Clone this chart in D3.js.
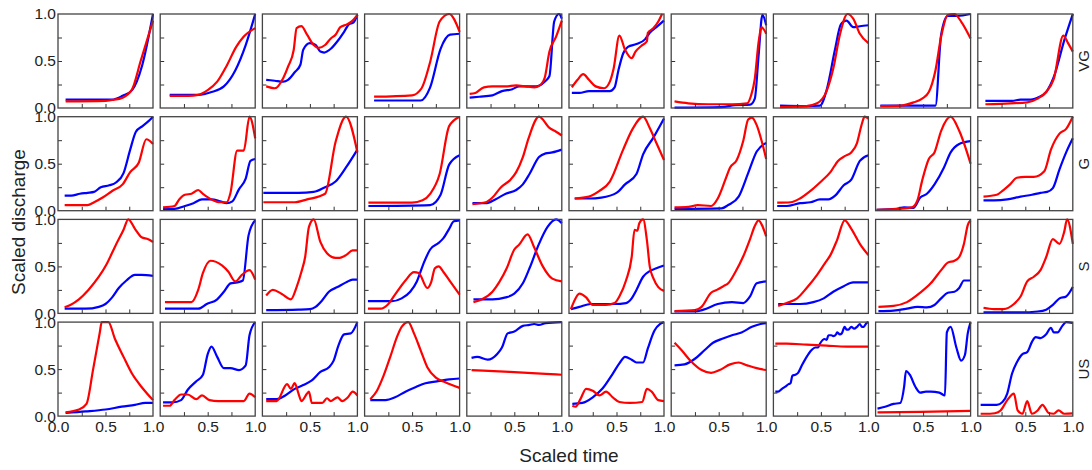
<!DOCTYPE html>
<html><head><meta charset="utf-8">
<script src="https://cdn.jsdelivr.net/npm/d3@7"></script>
<style>html,body{margin:0;padding:0;background:#fff;}svg{display:block;}</style>
</head><body>
<svg id="chart" width="1092" height="470"></svg>
<script>
const rowLabels = ["VG","G","S","US"];
const xTickLabels = [0, 0.5, 1];
const yTickLabels = [0, 0.5, 1];
const minorTicks = [0.25, 0.5, 0.75];

// each entry: one panel (column 1..10), points [scaled time, scaled discharge]
const vgBlue = [
 [[0.08,0.09],[0.3,0.09],[0.57,0.09],[0.68,0.13],[0.78,0.19],[0.885,0.45],[1.0,1.0]],
 [[0.1,0.14],[0.4,0.14],[0.54,0.17],[0.67,0.23],[0.79,0.4],[0.9,0.67],[1.0,1.0]],
 [[0.04,0.3],[0.13,0.29],[0.22,0.28],[0.27,0.3],[0.34,0.38],[0.4,0.46],[0.43,0.62],[0.5,0.69],[0.56,0.67],[0.61,0.6],[0.65,0.59],[0.72,0.63],[0.79,0.71],[0.86,0.81],[0.91,0.89],[0.96,0.91],[1.0,0.99]],
 [[0.1,0.08],[0.59,0.08],[0.69,0.22],[0.8,0.63],[0.9,0.78],[1.0,0.79]],
 [[0.03,0.11],[0.13,0.12],[0.27,0.135],[0.37,0.18],[0.48,0.2],[0.55,0.23],[0.66,0.23],[0.73,0.23],[0.82,0.28],[0.87,0.34],[0.92,0.92],[0.97,1.0],[1.0,0.95]],
 [[0.03,0.16],[0.11,0.16],[0.21,0.18],[0.32,0.18],[0.43,0.18],[0.48,0.22],[0.52,0.4],[0.57,0.58],[0.62,0.65],[0.71,0.68],[0.8,0.73],[0.85,0.8],[0.92,0.86],[1.0,0.93]],
 [[0.035,0.005],[0.53,0.01],[0.67,0.03],[0.83,0.035],[0.88,0.1],[0.92,0.56],[0.96,0.99],[1.0,0.88]],
 [[0.07,0.025],[0.35,0.02],[0.49,0.025],[0.56,0.19],[0.65,0.63],[0.71,0.89],[0.77,0.93],[0.84,0.86],[0.91,0.87],[1.0,0.88]],
 [[0.05,0.025],[0.63,0.025],[0.69,0.78],[0.76,0.98],[0.86,0.98],[1.0,1.0]],
 [[0.08,0.075],[0.36,0.075],[0.45,0.09],[0.56,0.09],[0.63,0.11],[0.72,0.17],[0.8,0.33],[0.91,0.72],[1.0,1.0]]
];
const vgRed = [
 [[0.08,0.07],[0.5,0.075],[0.57,0.085],[0.68,0.11],[0.78,0.2],[0.87,0.5],[1.0,0.93]],
 [[0.1,0.13],[0.3,0.13],[0.4,0.14],[0.5,0.19],[0.6,0.28],[0.7,0.45],[0.8,0.65],[0.88,0.76],[1.0,0.85]],
 [[0.04,0.23],[0.13,0.21],[0.22,0.32],[0.27,0.44],[0.33,0.62],[0.36,0.85],[0.41,0.87],[0.47,0.78],[0.54,0.67],[0.59,0.64],[0.66,0.67],[0.72,0.74],[0.77,0.78],[0.82,0.86],[0.89,0.89],[0.95,0.93],[1.0,0.99]],
 [[0.1,0.12],[0.5,0.135],[0.6,0.21],[0.69,0.49],[0.79,0.92],[0.89,1.0],[1.0,0.81]],
 [[0.03,0.15],[0.09,0.16],[0.18,0.22],[0.27,0.23],[0.41,0.23],[0.52,0.24],[0.62,0.23],[0.71,0.22],[0.78,0.25],[0.82,0.32],[0.87,0.6],[0.94,0.76],[1.0,0.93]],
 [[0.03,0.22],[0.09,0.3],[0.15,0.36],[0.21,0.3],[0.28,0.23],[0.37,0.21],[0.43,0.28],[0.47,0.42],[0.53,0.77],[0.59,0.62],[0.66,0.53],[0.7,0.6],[0.76,0.66],[0.82,0.71],[0.83,0.8],[0.89,0.85],[0.94,0.92],[0.98,1.0]],
 [[0.035,0.07],[0.18,0.05],[0.39,0.04],[0.64,0.04],[0.8,0.05],[0.84,0.13],[0.88,0.31],[0.92,0.7],[0.95,0.86],[1.0,0.79]],
 [[0.07,0.01],[0.35,0.02],[0.46,0.05],[0.56,0.18],[0.63,0.42],[0.7,0.78],[0.78,1.0],[0.84,0.95],[0.91,0.79],[1.0,0.69]],
 [[0.05,0.02],[0.26,0.025],[0.4,0.06],[0.49,0.1],[0.56,0.17],[0.63,0.4],[0.69,0.76],[0.76,0.99],[0.83,1.0],[0.9,0.92],[1.0,0.74]],
 [[0.08,0.04],[0.34,0.05],[0.52,0.06],[0.63,0.1],[0.72,0.17],[0.8,0.31],[0.9,0.77],[0.95,0.69],[1.0,0.6]]
];
const gBlue = [
 [[0.07,0.16],[0.14,0.16],[0.23,0.18],[0.31,0.19],[0.38,0.2],[0.45,0.25],[0.54,0.27],[0.61,0.3],[0.69,0.4],[0.76,0.65],[0.82,0.84],[0.89,0.9],[0.95,0.95],[1.0,1.0]],
 [[0.03,0.02],[0.15,0.02],[0.26,0.05],[0.35,0.08],[0.44,0.12],[0.54,0.12],[0.63,0.1],[0.7,0.08],[0.76,0.1],[0.83,0.23],[0.9,0.34],[0.95,0.53],[1.0,0.55]],
 [[0.01,0.19],[0.38,0.19],[0.54,0.2],[0.66,0.25],[0.77,0.31],[0.88,0.46],[1.0,0.65]],
 [[0.04,0.05],[0.69,0.06],[0.8,0.17],[0.89,0.49],[1.0,0.59]],
 [[0.06,0.08],[0.2,0.08],[0.3,0.12],[0.41,0.18],[0.52,0.22],[0.59,0.28],[0.66,0.39],[0.76,0.57],[0.83,0.61],[0.9,0.62],[1.0,0.65]],
 [[0.06,0.13],[0.21,0.13],[0.34,0.14],[0.5,0.19],[0.59,0.28],[0.71,0.39],[0.78,0.6],[0.89,0.78],[1.0,0.98]],
 [[0.035,0.02],[0.53,0.025],[0.6,0.06],[0.71,0.15],[0.81,0.4],[0.9,0.63],[1.0,0.72]],
 [[0.04,0.05],[0.14,0.05],[0.28,0.08],[0.39,0.09],[0.49,0.12],[0.58,0.12],[0.65,0.16],[0.74,0.27],[0.82,0.33],[0.91,0.53],[1.0,0.59]],
 [[0.01,0.01],[0.22,0.02],[0.3,0.035],[0.4,0.03],[0.47,0.14],[0.54,0.18],[0.62,0.28],[0.72,0.46],[0.79,0.62],[0.88,0.71],[1.0,0.74]],
 [[0.06,0.11],[0.17,0.11],[0.31,0.12],[0.45,0.15],[0.57,0.17],[0.66,0.19],[0.73,0.2],[0.79,0.24],[0.86,0.44],[0.93,0.62],[1.0,0.77]]
];
const gRed = [
 [[0.07,0.06],[0.31,0.06],[0.38,0.09],[0.47,0.14],[0.57,0.21],[0.68,0.28],[0.76,0.41],[0.85,0.51],[0.93,0.76],[1.0,0.71]],
 [[0.03,0.035],[0.15,0.05],[0.2,0.12],[0.26,0.17],[0.33,0.18],[0.4,0.22],[0.45,0.18],[0.54,0.12],[0.63,0.09],[0.7,0.09],[0.74,0.19],[0.81,0.64],[0.88,0.64],[0.94,1.0],[1.0,0.77]],
 [[0.01,0.09],[0.34,0.09],[0.47,0.12],[0.66,0.18],[0.77,0.73],[0.88,1.0],[1.0,0.62]],
 [[0.04,0.085],[0.5,0.085],[0.61,0.11],[0.69,0.18],[0.79,0.39],[0.89,0.9],[1.0,1.0]],
 [[0.06,0.07],[0.2,0.09],[0.27,0.14],[0.36,0.25],[0.46,0.33],[0.52,0.41],[0.59,0.57],[0.65,0.77],[0.76,1.0],[0.87,0.88],[0.94,0.84],[1.0,0.8]],
 [[0.06,0.13],[0.21,0.15],[0.32,0.21],[0.43,0.31],[0.57,0.65],[0.67,0.87],[0.78,1.0],[0.85,0.88],[0.92,0.72],[1.0,0.54]],
 [[0.035,0.035],[0.18,0.04],[0.28,0.06],[0.42,0.05],[0.49,0.13],[0.57,0.33],[0.62,0.46],[0.69,0.54],[0.76,0.75],[0.81,0.97],[0.85,0.99],[0.9,0.91],[0.95,0.75],[1.0,0.55]],
 [[0.04,0.085],[0.18,0.09],[0.28,0.13],[0.39,0.21],[0.49,0.3],[0.6,0.41],[0.68,0.53],[0.75,0.58],[0.82,0.62],[0.88,0.72],[0.93,0.92],[0.96,1.0],[1.0,0.98]],
 [[0.01,0.01],[0.26,0.02],[0.38,0.035],[0.44,0.11],[0.49,0.32],[0.56,0.55],[0.62,0.62],[0.69,0.85],[0.79,1.0],[0.88,0.85],[1.0,0.5]],
 [[0.06,0.15],[0.2,0.17],[0.27,0.22],[0.34,0.28],[0.41,0.35],[0.5,0.36],[0.59,0.36],[0.7,0.42],[0.77,0.65],[0.86,0.82],[0.93,0.87],[1.0,1.0]]
];
const sBlue = [
 [[0.07,0.05],[0.29,0.05],[0.43,0.07],[0.5,0.1],[0.57,0.17],[0.64,0.27],[0.72,0.35],[0.81,0.41],[0.88,0.41],[1.0,0.4]],
 [[0.05,0.05],[0.4,0.05],[0.49,0.1],[0.6,0.15],[0.67,0.23],[0.74,0.32],[0.81,0.33],[0.87,0.35],[0.93,0.83],[1.0,0.99]],
 [[0.04,0.035],[0.38,0.04],[0.5,0.045],[0.56,0.07],[0.63,0.14],[0.7,0.23],[0.79,0.28],[0.88,0.33],[0.95,0.36],[1.0,0.36]],
 [[0.035,0.13],[0.29,0.13],[0.39,0.16],[0.48,0.23],[0.55,0.34],[0.62,0.53],[0.69,0.68],[0.78,0.75],[0.83,0.8],[0.89,0.9],[0.94,0.98],[1.0,0.99]],
 [[0.07,0.15],[0.27,0.15],[0.41,0.17],[0.5,0.21],[0.59,0.32],[0.66,0.48],[0.76,0.74],[0.85,0.92],[0.94,1.0],[1.0,0.96]],
 [[0.02,0.045],[0.11,0.07],[0.23,0.1],[0.35,0.1],[0.48,0.1],[0.6,0.11],[0.66,0.16],[0.71,0.25],[0.78,0.39],[0.85,0.45],[0.92,0.48],[1.0,0.51]],
 [[0.035,0.02],[0.25,0.02],[0.34,0.04],[0.49,0.1],[0.64,0.12],[0.76,0.11],[0.83,0.18],[0.9,0.32],[1.0,0.34]],
 [[0.05,0.1],[0.28,0.1],[0.42,0.12],[0.53,0.16],[0.63,0.23],[0.74,0.29],[0.84,0.33],[1.0,0.33]],
 [[0.03,0.025],[0.19,0.03],[0.33,0.05],[0.44,0.07],[0.54,0.065],[0.62,0.09],[0.69,0.16],[0.76,0.22],[0.83,0.23],[0.88,0.27],[0.93,0.35],[1.0,0.35]],
 [[0.06,0.01],[0.45,0.01],[0.63,0.02],[0.72,0.04],[0.79,0.09],[0.86,0.16],[0.93,0.18],[1.0,0.28]]
];
const sRed = [
 [[0.07,0.065],[0.13,0.09],[0.22,0.15],[0.32,0.25],[0.43,0.39],[0.51,0.52],[0.6,0.71],[0.69,0.89],[0.74,1.0],[0.81,0.9],[0.88,0.81],[0.95,0.79],[1.0,0.76]],
 [[0.05,0.12],[0.33,0.12],[0.4,0.25],[0.45,0.43],[0.53,0.56],[0.65,0.51],[0.72,0.44],[0.79,0.34],[0.86,0.41],[0.94,0.46],[1.0,0.36]],
 [[0.04,0.19],[0.11,0.25],[0.2,0.21],[0.3,0.15],[0.36,0.28],[0.41,0.44],[0.45,0.6],[0.49,0.92],[0.54,1.0],[0.61,0.76],[0.68,0.64],[0.77,0.59],[0.8,0.59],[0.88,0.62],[0.95,0.67],[1.0,0.67]],
 [[0.035,0.05],[0.17,0.05],[0.24,0.09],[0.32,0.2],[0.43,0.35],[0.52,0.44],[0.57,0.43],[0.66,0.27],[0.7,0.33],[0.74,0.48],[0.78,0.5],[0.83,0.44],[0.9,0.34],[1.0,0.2]],
 [[0.07,0.12],[0.16,0.15],[0.27,0.23],[0.34,0.33],[0.42,0.48],[0.5,0.68],[0.55,0.73],[0.64,0.84],[0.71,0.7],[0.8,0.5],[0.9,0.37],[1.0,0.34]],
 [[0.02,0.045],[0.05,0.12],[0.11,0.21],[0.18,0.17],[0.25,0.09],[0.39,0.09],[0.48,0.11],[0.53,0.18],[0.6,0.35],[0.66,0.6],[0.69,0.89],[0.72,0.88],[0.74,0.96],[0.78,1.0],[0.82,0.78],[0.85,0.5],[0.89,0.37],[0.94,0.28],[1.0,0.24]],
 [[0.035,0.025],[0.25,0.035],[0.32,0.07],[0.42,0.22],[0.48,0.25],[0.55,0.29],[0.6,0.32],[0.67,0.43],[0.76,0.61],[0.83,0.79],[0.88,0.93],[0.92,0.99],[0.95,0.95],[1.0,0.82]],
 [[0.05,0.08],[0.14,0.11],[0.25,0.16],[0.35,0.27],[0.46,0.41],[0.54,0.53],[0.6,0.62],[0.67,0.78],[0.75,0.99],[0.82,0.9],[0.91,0.74],[1.0,0.62]],
 [[0.03,0.07],[0.19,0.08],[0.33,0.12],[0.47,0.22],[0.58,0.32],[0.69,0.46],[0.76,0.54],[0.83,0.56],[0.88,0.6],[0.93,0.74],[0.97,0.94],[1.0,0.99]],
 [[0.06,0.06],[0.17,0.045],[0.27,0.045],[0.38,0.1],[0.45,0.18],[0.52,0.34],[0.59,0.39],[0.66,0.46],[0.72,0.6],[0.79,0.79],[0.86,0.74],[0.91,0.87],[0.94,1.0],[1.0,0.74]]
];
const usBlue = [
 [[0.08,0.035],[0.29,0.05],[0.5,0.07],[0.67,0.1],[0.81,0.12],[0.92,0.14],[1.0,0.14]],
 [[0.03,0.145],[0.13,0.145],[0.22,0.17],[0.29,0.28],[0.38,0.37],[0.45,0.44],[0.5,0.66],[0.54,0.74],[0.6,0.63],[0.67,0.51],[0.74,0.51],[0.83,0.49],[0.9,0.54],[0.94,0.86],[1.0,1.0]],
 [[0.04,0.18],[0.15,0.18],[0.24,0.22],[0.34,0.29],[0.43,0.33],[0.52,0.38],[0.61,0.47],[0.7,0.52],[0.75,0.59],[0.8,0.75],[0.86,0.87],[0.93,0.88],[1.0,1.0]],
 [[0.06,0.17],[0.22,0.17],[0.32,0.2],[0.43,0.26],[0.54,0.31],[0.64,0.35],[0.76,0.37],[0.89,0.39],[1.0,0.4]],
 [[0.05,0.62],[0.11,0.63],[0.22,0.6],[0.32,0.66],[0.37,0.73],[0.43,0.88],[0.5,0.9],[0.59,0.96],[0.66,0.97],[0.71,0.98],[0.76,0.97],[0.83,0.99],[1.0,1.0]],
 [[0.035,0.13],[0.14,0.14],[0.25,0.2],[0.35,0.29],[0.46,0.45],[0.53,0.56],[0.59,0.63],[0.66,0.6],[0.71,0.57],[0.78,0.57],[0.83,0.72],[0.9,0.91],[0.96,0.98],[1.0,1.0]],
 [[0.035,0.54],[0.14,0.55],[0.25,0.61],[0.35,0.7],[0.44,0.78],[0.53,0.82],[0.64,0.86],[0.74,0.89],[0.85,0.95],[0.94,0.98],[1.0,0.99]],
 [[0.02,0.26],[0.05,0.26],[0.09,0.29],[0.12,0.31],[0.16,0.34],[0.18,0.35],[0.2,0.43],[0.23,0.44],[0.26,0.46],[0.3,0.54],[0.35,0.63],[0.4,0.7],[0.44,0.73],[0.47,0.73],[0.49,0.77],[0.54,0.82],[0.56,0.81],[0.58,0.86],[0.61,0.86],[0.63,0.85],[0.66,0.87],[0.67,0.89],[0.7,0.87],[0.72,0.88],[0.75,0.95],[0.77,0.92],[0.79,0.92],[0.82,0.95],[0.85,0.93],[0.88,0.95],[0.91,0.98],[0.93,0.95],[0.95,0.95],[0.98,0.99],[1.0,1.0]],
 [[0.02,0.08],[0.1,0.1],[0.19,0.13],[0.26,0.14],[0.3,0.31],[0.32,0.48],[0.36,0.44],[0.42,0.31],[0.47,0.25],[0.53,0.26],[0.58,0.26],[0.67,0.25],[0.73,0.22],[0.75,0.89],[0.79,0.95],[0.85,0.73],[0.9,0.59],[0.94,0.65],[0.97,0.88],[1.0,1.0]],
 [[0.03,0.12],[0.2,0.12],[0.26,0.15],[0.31,0.24],[0.36,0.45],[0.41,0.57],[0.47,0.66],[0.52,0.68],[0.57,0.79],[0.61,0.84],[0.66,0.83],[0.72,0.87],[0.77,0.94],[0.8,0.89],[0.84,0.89],[0.89,0.96],[0.93,1.0],[1.0,0.99]]
];
const usRed = [
 [[0.08,0.04],[0.22,0.07],[0.3,0.13],[0.37,0.5],[0.44,0.89],[0.46,1.0],[0.53,1.0],[0.6,0.82],[0.69,0.63],[0.78,0.45],[0.88,0.31],[1.0,0.17]],
 [[0.03,0.11],[0.1,0.11],[0.15,0.17],[0.22,0.23],[0.29,0.23],[0.38,0.18],[0.44,0.22],[0.52,0.17],[0.61,0.16],[0.76,0.16],[0.88,0.16],[0.94,0.24],[1.0,0.2]],
 [[0.04,0.16],[0.15,0.16],[0.26,0.34],[0.3,0.29],[0.34,0.35],[0.38,0.24],[0.41,0.16],[0.47,0.24],[0.49,0.26],[0.52,0.14],[0.63,0.14],[0.68,0.19],[0.72,0.16],[0.79,0.2],[0.84,0.16],[0.9,0.2],[0.95,0.26],[1.0,0.22]],
 [[0.06,0.18],[0.13,0.27],[0.2,0.43],[0.27,0.63],[0.34,0.84],[0.39,0.95],[0.46,1.0],[0.52,0.88],[0.59,0.7],[0.66,0.52],[0.75,0.41],[0.85,0.36],[1.0,0.3]],
 [[0.05,0.49],[0.45,0.47],[0.83,0.45],[1.0,0.44]],
 [[0.035,0.11],[0.07,0.1],[0.12,0.18],[0.18,0.29],[0.25,0.27],[0.32,0.22],[0.39,0.26],[0.46,0.2],[0.53,0.15],[0.64,0.14],[0.77,0.15],[0.82,0.29],[0.87,0.26],[0.94,0.17],[1.0,0.16]],
 [[0.035,0.78],[0.11,0.7],[0.21,0.58],[0.32,0.49],[0.42,0.46],[0.51,0.49],[0.62,0.55],[0.71,0.57],[0.8,0.54],[0.9,0.51],[1.0,0.49]],
 [[0.02,0.77],[0.14,0.77],[0.35,0.76],[0.56,0.75],[0.77,0.74],[1.0,0.74]],
 [[0.02,0.04],[0.47,0.045],[1.0,0.055]],
 [[0.03,0.025],[0.13,0.025],[0.18,0.03],[0.24,0.06],[0.31,0.17],[0.38,0.24],[0.42,0.06],[0.47,0.025],[0.52,0.16],[0.57,0.025],[0.63,0.06],[0.68,0.12],[0.75,0.03],[0.8,0.025],[0.85,0.06],[0.91,0.025],[1.0,0.03]]
];

const blueRows = [vgBlue, gBlue, sBlue, usBlue];
const redRows = [vgRed, gRed, sRed, usRed];

const svg = d3.select("#chart");
const left0 = 58, pitchX = 102.2, pw = 95;
const top0 = 14, pitchY = 102.7, ph = 94;
const font = "'Liberation Sans', Arial, Helvetica, sans-serif";
const x = d3.scaleLinear().domain([0,1]).range([0,pw]);
const y = d3.scaleLinear().domain([0,1]).range([ph,0]);
const line = d3.line().x(d=>x(d[0])).y(d=>y(d[1])).curve(d3.curveMonotoneX);

rowLabels.forEach((lab, r) => {
  for (let c = 0; c < 10; c++) {
    const g = svg.append("g").attr("transform", `translate(${left0 + c*pitchX},${top0 + r*pitchY})`);
    g.append("path").datum(blueRows[r][c]).attr("d", line)
      .attr("fill","none").attr("stroke","#0000ff").attr("stroke-width",2.2).attr("stroke-linejoin","round");
    g.append("path").datum(redRows[r][c]).attr("d", line)
      .attr("fill","none").attr("stroke","#ff0000").attr("stroke-width",2.2).attr("stroke-linejoin","round");
    // inward ticks
    const xa = d3.axisTop(x).tickValues(minorTicks).tickSize(4).tickFormat("");
    const ga = g.append("g").attr("transform",`translate(0,${ph})`).call(xa);
    ga.select(".domain").remove();
    ga.selectAll("line").attr("stroke","#333");
    const ya = d3.axisRight(y).tickValues(minorTicks).tickSize(4).tickFormat("");
    const gy = g.append("g").call(ya);
    gy.select(".domain").remove();
    gy.selectAll("line").attr("stroke","#333");
    g.append("rect").attr("x",0).attr("y",0).attr("width",pw).attr("height",ph)
      .attr("fill","none").attr("stroke","#444").attr("stroke-width",1.3);
    if (c === 0) {
      const yl = d3.axisLeft(y).tickValues(yTickLabels).tickSize(0).tickPadding(2).tickFormat(d3.format(".1f"));
      const gl = g.append("g").call(yl);
      gl.select(".domain").remove();
      gl.selectAll("text").attr("font-family",font).attr("font-size",15.5).attr("fill","#222");
    }
    if (r === 3) {
      const vals = c === 0 ? xTickLabels : xTickLabels.slice(1);
      const xl = d3.axisBottom(x).tickValues(vals).tickSize(0).tickPadding(5).tickFormat(d3.format(".1f"));
      const gx = g.append("g").attr("transform",`translate(0,${ph})`).call(xl);
      gx.select(".domain").remove();
      gx.selectAll("text").attr("font-family",font).attr("font-size",15.5).attr("fill","#222");
    }
  }
  svg.append("text").attr("transform",`translate(1089,${top0 + r*pitchY + ph/2}) rotate(-90)`)
    .attr("text-anchor","middle").attr("font-family",font).attr("font-size",15).attr("fill","#222").text(lab);
});

svg.append("text").attr("transform","translate(25,222) rotate(-90)")
  .attr("text-anchor","middle").attr("font-family",font).attr("font-size",19).attr("fill","#222").text("Scaled discharge");
svg.append("text").attr("x",569).attr("y",462)
  .attr("text-anchor","middle").attr("font-family",font).attr("font-size",19).attr("fill","#222").text("Scaled time");
</script>
</body></html>
